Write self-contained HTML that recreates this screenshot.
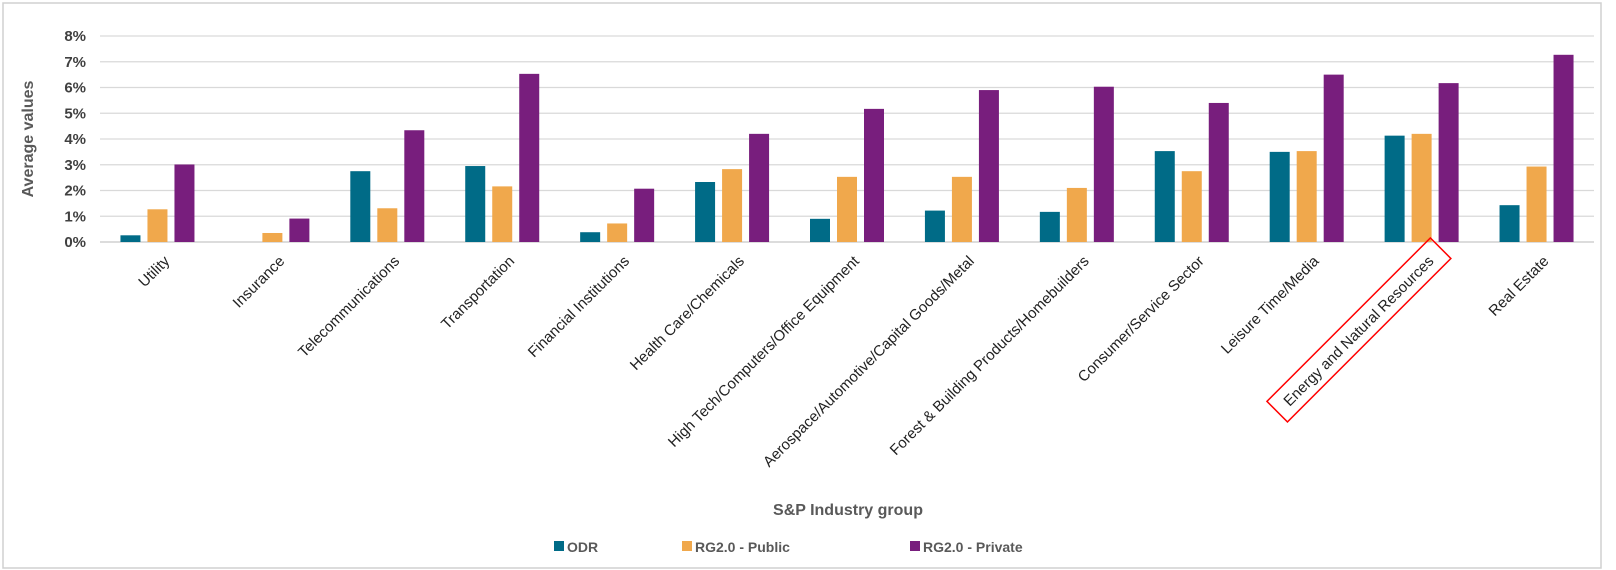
<!DOCTYPE html>
<html><head><meta charset="utf-8"><style>
body{margin:0;background:#fff;}
svg{display:block;font-family:"Liberation Sans",sans-serif;}
</style></head><body>
<svg id="chart" width="1616" height="570">
<rect x="3" y="3" width="1598" height="565" fill="#fff" stroke="#d0d0d0" stroke-width="1.5"/>
<g id="grid"></g><g id="bars"></g><g id="xlabels"></g>
<text x="33" y="139" transform="rotate(-90 33 139)" text-anchor="middle" font-size="16" font-weight="bold" fill="#595959">Average values</text>
<text x="848" y="515" text-anchor="middle" font-size="16" font-weight="bold" fill="#595959">S&amp;P Industry group</text>
<g id="legend"></g>
</svg>
<script>
const categories=["Utility","Insurance","Telecommunications","Transportation","Financial Institutions","Health Care/Chemicals","High Tech/Computers/Office Equipment","Aerospace/Automotive/Capital Goods/Metal","Forest & Building Products/Homebuilders","Consumer/Service Sector","Leisure Time/Media","Energy and Natural Resources","Real Estate"];
const odr=[0.26,0,2.75,2.95,0.38,2.33,0.9,1.22,1.17,3.53,3.5,4.13,1.43];
const rgPublic=[1.27,0.35,1.31,2.16,0.72,2.83,2.53,2.53,2.1,2.75,3.53,4.2,2.93];
const rgPrivate=[3.01,0.91,4.34,6.53,2.07,4.2,5.17,5.9,6.03,5.4,6.5,6.17,7.27];
const seriesNames=["ODR","RG2.0 - Public","RG2.0 - Private"];
const yTicks=[0,1,2,3,4,5,6,7,8];
const colors=["#006b87","#f0a84c","#781e7d"];
const NS="http://www.w3.org/2000/svg";
const X0=100,X1=1594,Y0=242,Y1=36,YMAX=8;
const cw=(X1-X0)/categories.length;
const y=v=>Y0-(v/YMAX)*(Y0-Y1);
const xc=i=>X0+cw*(i+0.5);
function mk(tag,attrs,parent){const e=document.createElementNS(NS,tag);for(const k in attrs)e.setAttribute(k,attrs[k]);parent.appendChild(e);return e;}
const grid=document.getElementById('grid');
yTicks.forEach(t=>{
  const l=mk('line',{x1:X0,x2:X1,y1:y(t),y2:y(t),stroke:t===0?'#c8c8c8':'#d9d9d9','stroke-width':1.3},grid);
  
  
  const tx=mk('text',{x:86,y:y(t)+5,'text-anchor':'end','font-size':15,'font-weight':'bold',fill:'#404040'},grid);
  tx.textContent=t+'%';
  
  
});
const bars=document.getElementById('bars');
const all=[odr,rgPublic,rgPrivate];
const bw=20,step=27;
categories.forEach((c,i)=>{
  all.forEach((s,j)=>{
    const v=s[i];
    const bx=xc(i)+(j-1)*step-bw/2;
    const r=mk('rect',{x:bx,y:y(v),width:bw,height:Y0-y(v),fill:colors[j]},bars);
    
    
  });
  const g=mk('g',{transform:`translate(${xc(i)+13},262) rotate(-45)`},document.getElementById('xlabels'));
  const t=mk('text',{x:0,y:0,'text-anchor':'end','font-size':15,fill:'#222'},g);
  t.textContent=c;
  
  
  if(c==="Energy and Natural Resources"){
    const w=t.getComputedTextLength();
    const b=mk('rect',{x:-w-12,y:-20,width:w+26,height:29,fill:'none',stroke:'#ff0000','stroke-width':1.5},g);
    
    
  }
});
const leg=document.getElementById('legend');
const lx=[554,682,910];
seriesNames.forEach((n,j)=>{
  const r=mk('rect',{x:lx[j],y:541,width:10,height:10,fill:colors[j]},leg);
  
  
  const t=mk('text',{x:lx[j]+13,y:552,'font-size':14,'font-weight':'bold',fill:'#595959'},leg);
  t.textContent=n;
  
  
});
</script>
</body></html>
